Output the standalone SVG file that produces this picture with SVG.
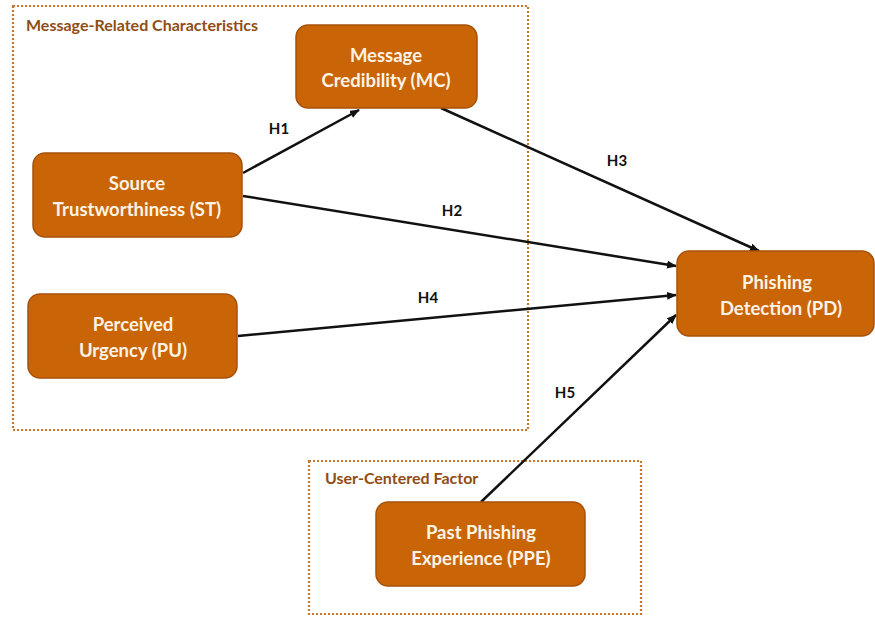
<svg xmlns="http://www.w3.org/2000/svg" width="875" height="617" viewBox="0 0 875 617">
<style>
.grp{fill:none;stroke:#c8782e;stroke-width:2.2;stroke-dasharray:2 2}
.gt{font-family:Lato,"Open Sans","Liberation Sans",sans-serif;font-weight:bold;font-size:16px;fill:#8f4d14}
.node{fill:#c96506;stroke:#a5520c;stroke-width:1.5}
.nt{font-family:Lato,"Open Sans","Liberation Sans",sans-serif;font-weight:bold;font-size:18.5px;fill:#fbf3e6;text-anchor:middle}
.edge{stroke:#111;stroke-width:2.5;fill:none;marker-end:url(#ah)}
.el{font-family:Lato,"Open Sans","Liberation Sans",sans-serif;font-weight:bold;font-size:15px;fill:#111;text-anchor:middle}
</style>
<defs>
<marker id="ah" markerWidth="10" markerHeight="8" refX="9" refY="4" orient="auto" markerUnits="userSpaceOnUse">
<path d="M0,0 L10,4 L0,8 Z" fill="#111"/>
</marker>
</defs>
<rect width="875" height="617" fill="#fff"/>
<g id="group-message">
<rect class="grp" x="13" y="6" width="515" height="424"/>
<text class="gt" x="26" y="31">Message-Related Characteristics</text>
</g>
<g id="group-user">
<rect class="grp" x="309" y="461" width="332" height="153"/>
<text class="gt" x="325" y="484">User-Centered Factor</text>
</g>
<g id="connectors">
<line class="edge" x1="243" y1="173" x2="359" y2="110"/>
<line class="edge" x1="441" y1="108" x2="759" y2="251"/>
<line class="edge" x1="243" y1="196" x2="676" y2="266"/>
<line class="edge" x1="238" y1="336" x2="676" y2="295"/>
<line class="edge" x1="481" y1="502" x2="676" y2="315"/>
<text class="el" x="279" y="134">H1</text>
<text class="el" x="617" y="166">H3</text>
<text class="el" x="452" y="216">H2</text>
<text class="el" x="428" y="303">H4</text>
<text class="el" x="565" y="398">H5</text>
</g>
<g id="node-mc">
<rect class="node" x="296" y="25" width="181" height="83" rx="12"/>
<text class="nt" x="386" y="62">Message</text>
<text class="nt" x="386" y="87">Credibility (MC)</text>
</g>
<g id="node-st">
<rect class="node" x="33" y="153" width="209" height="84" rx="12"/>
<text class="nt" x="137" y="190">Source</text>
<text class="nt" x="137" y="216">Trustworthiness (ST)</text>
</g>
<g id="node-pu">
<rect class="node" x="28" y="294" width="209" height="84" rx="12"/>
<text class="nt" x="133" y="331">Perceived</text>
<text class="nt" x="133" y="357">Urgency (PU)</text>
</g>
<g id="node-pd">
<rect class="node" x="677" y="251" width="197" height="85" rx="12"/>
<text class="nt" x="777" y="289">Phishing</text>
<text class="nt" x="781" y="315">Detection (PD)</text>
</g>
<g id="node-ppe">
<rect class="node" x="376" y="502" width="209" height="84" rx="12"/>
<text class="nt" x="481" y="539">Past Phishing</text>
<text class="nt" x="481" y="565">Experience (PPE)</text>
</g>
</svg>
